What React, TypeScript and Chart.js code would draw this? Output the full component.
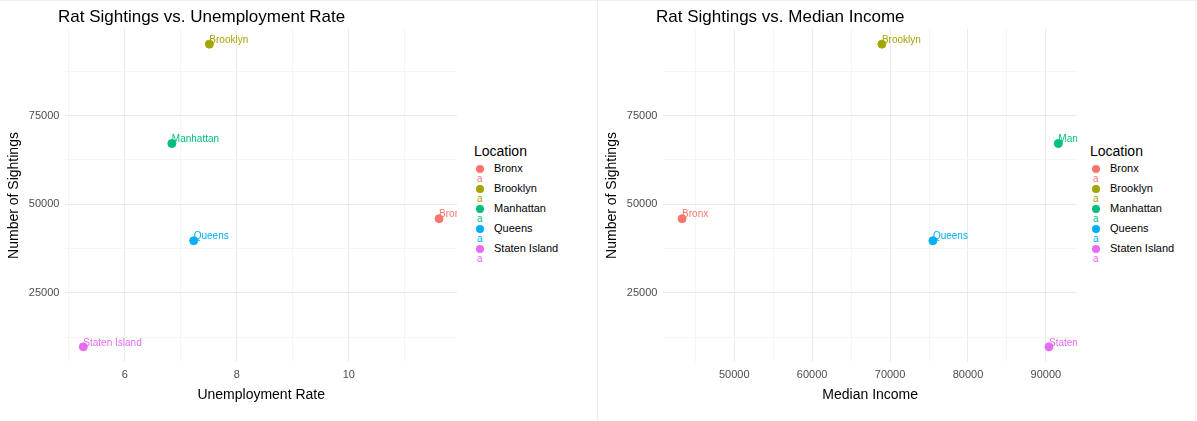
import React, { useEffect, useRef } from "react";
import { Chart, registerables } from "chart.js";

Chart.register(...registerables);

const locations = ["Bronx", "Brooklyn", "Manhattan", "Queens", "Staten Island"];
const colors = ["#F8766D", "#A3A500", "#00BF7D", "#00B0F6", "#E76BF3"];
const sightings = [45900, 95100, 67100, 39700, 9800];
const unemployment = [11.61, 7.51, 6.84, 7.23, 5.26];
const income = [43300, 68950, 91600, 75500, 90400];

const FONT = "Arial, 'Liberation Sans', sans-serif";

const pointLabels = {
  id: "pointLabels",
  afterDatasetsDraw(chart: any) {
    const { ctx, chartArea } = chart;
    ctx.save();
    ctx.beginPath();
    ctx.rect(chartArea.left, chartArea.top, chartArea.right - chartArea.left, chartArea.bottom - chartArea.top);
    ctx.clip();
    ctx.font = "10px " + FONT;
    ctx.textAlign = "left";
    ctx.textBaseline = "bottom";
    chart.data.datasets.forEach((ds: any, i: number) => {
      const el = chart.getDatasetMeta(i).data[0];
      ctx.fillStyle = ds.backgroundColor;
      ctx.fillText(ds.label, el.x, el.y + 1);
    });
    ctx.restore();
  },
};

function Panel(props: {
  title: string; xTitle: string; xs: number[]; xMin: number; xMax: number; xStep: number;
  xLabelEvery: number; width: number; legendLeft: number;
}) {
  const ref = useRef<HTMLCanvasElement>(null);
  useEffect(() => {
    const first = Math.ceil(props.xMin / props.xStep) * props.xStep;
    const xTicks: number[] = [];
    for (let v = first; v <= props.xMax; v += props.xStep) xTicks.push(v);
    const chart = new Chart(ref.current!, {
      type: "scatter",
      data: {
        datasets: locations.map((l, i) => ({
          label: l,
          data: [{ x: props.xs[i], y: sightings[i] }],
          backgroundColor: colors[i],
          borderColor: colors[i],
          pointRadius: 4,
        })),
      },
      options: {
        animation: false,
        responsive: false,
        layout: { padding: { left: 6, right: 4, top: 28, bottom: 10 } },
        plugins: { legend: { display: false }, tooltip: { enabled: false } },
        scales: {
          x: {
            type: "linear",
            min: props.xMin,
            max: props.xMax,
            border: { display: false },
            afterBuildTicks: (axis: any) => {
              axis.ticks = xTicks.map((v) => ({ value: v }));
            },
            grid: {
              color: (c: any) => (Math.round(c.tick.value / props.xStep) % 2 === 0 ? "#ebebeb" : "#f5f5f5"),
              drawTicks: false,
            },
            ticks: {
              color: "#4d4d4d",
              maxRotation: 0,
              autoSkip: false,
              font: { size: 11, family: FONT },
              padding: 6,
              callback: (v: any) => (Math.round(v / props.xStep) % props.xLabelEvery === 0 ? String(v) : ""),
            },
            title: { display: true, text: props.xTitle, color: "#000", font: { size: 14, family: FONT }, padding: 0 },
          },
          y: {
            min: 5535,
            max: 99365,
            border: { display: false },
            grid: {
              color: (c: any) => (Math.round(c.tick.value / 12500) % 2 === 0 ? "#ebebeb" : "#f5f5f5"),
              drawTicks: false,
            },
            afterBuildTicks: (axis: any) => {
              axis.ticks = [12500, 25000, 37500, 50000, 62500, 75000, 87500].map((v) => ({ value: v }));
            },
            ticks: {
              color: "#4d4d4d",
              font: { size: 11, family: FONT },
              padding: 6,
              callback: (v: any) => (v % 25000 === 0 ? String(v) : ""),
            },
            title: { display: true, text: "Number of Sightings", color: "#000", font: { size: 14, family: FONT }, padding: 0 },
          },
        },
      },
      plugins: [pointLabels],
    });
    return () => chart.destroy();
  }, []);
  return (
    <div style={{ position: "relative", width: 598, height: 421, borderRight: "1px solid #eee", boxSizing: "border-box", fontFamily: FONT }}>
      <canvas ref={ref} width={props.width} height={413} style={{ position: "absolute", left: 0, top: 0 }} />
      <div style={{ position: "absolute", left: 58, top: 6, fontSize: 17, whiteSpace: "nowrap" }}>{props.title}</div>
      <div style={{ position: "absolute", left: props.legendLeft, top: 142, whiteSpace: "nowrap" }}>
        <div style={{ fontSize: 14, marginBottom: 6 }}>Location</div>
        {locations.map((l, i) => (
          <div key={l} style={{ position: "relative", height: 20, fontSize: 11 }}>
            <span style={{ position: "absolute", left: 2, top: 0, width: 8, height: 8, borderRadius: 4, background: colors[i] }} />
            <span style={{ position: "absolute", left: 20, top: -3 }}>{l}</span>
            <span style={{ position: "absolute", left: 3, top: 8, fontSize: 10, color: colors[i] }}>a</span>
          </div>
        ))}
      </div>
    </div>
  );
}

export default function App() {
  return (
    <div style={{ position: "absolute", left: 0, top: 0, display: "flex", width: 1197, height: 421, background: "#fff", borderTop: "1px solid #eee" }}>
      <Panel title="Rat Sightings vs. Unemployment Rate" xTitle="Unemployment Rate" xs={unemployment} xMin={4.94} xMax={11.93} xStep={1} xLabelEvery={2} width={462} legendLeft={474} />
      <Panel title="Rat Sightings vs. Median Income" xTitle="Median Income" xs={income} xMin={40900} xMax={94000} xStep={5000} xLabelEvery={2} width={484} legendLeft={492} />
    </div>
  );
}
